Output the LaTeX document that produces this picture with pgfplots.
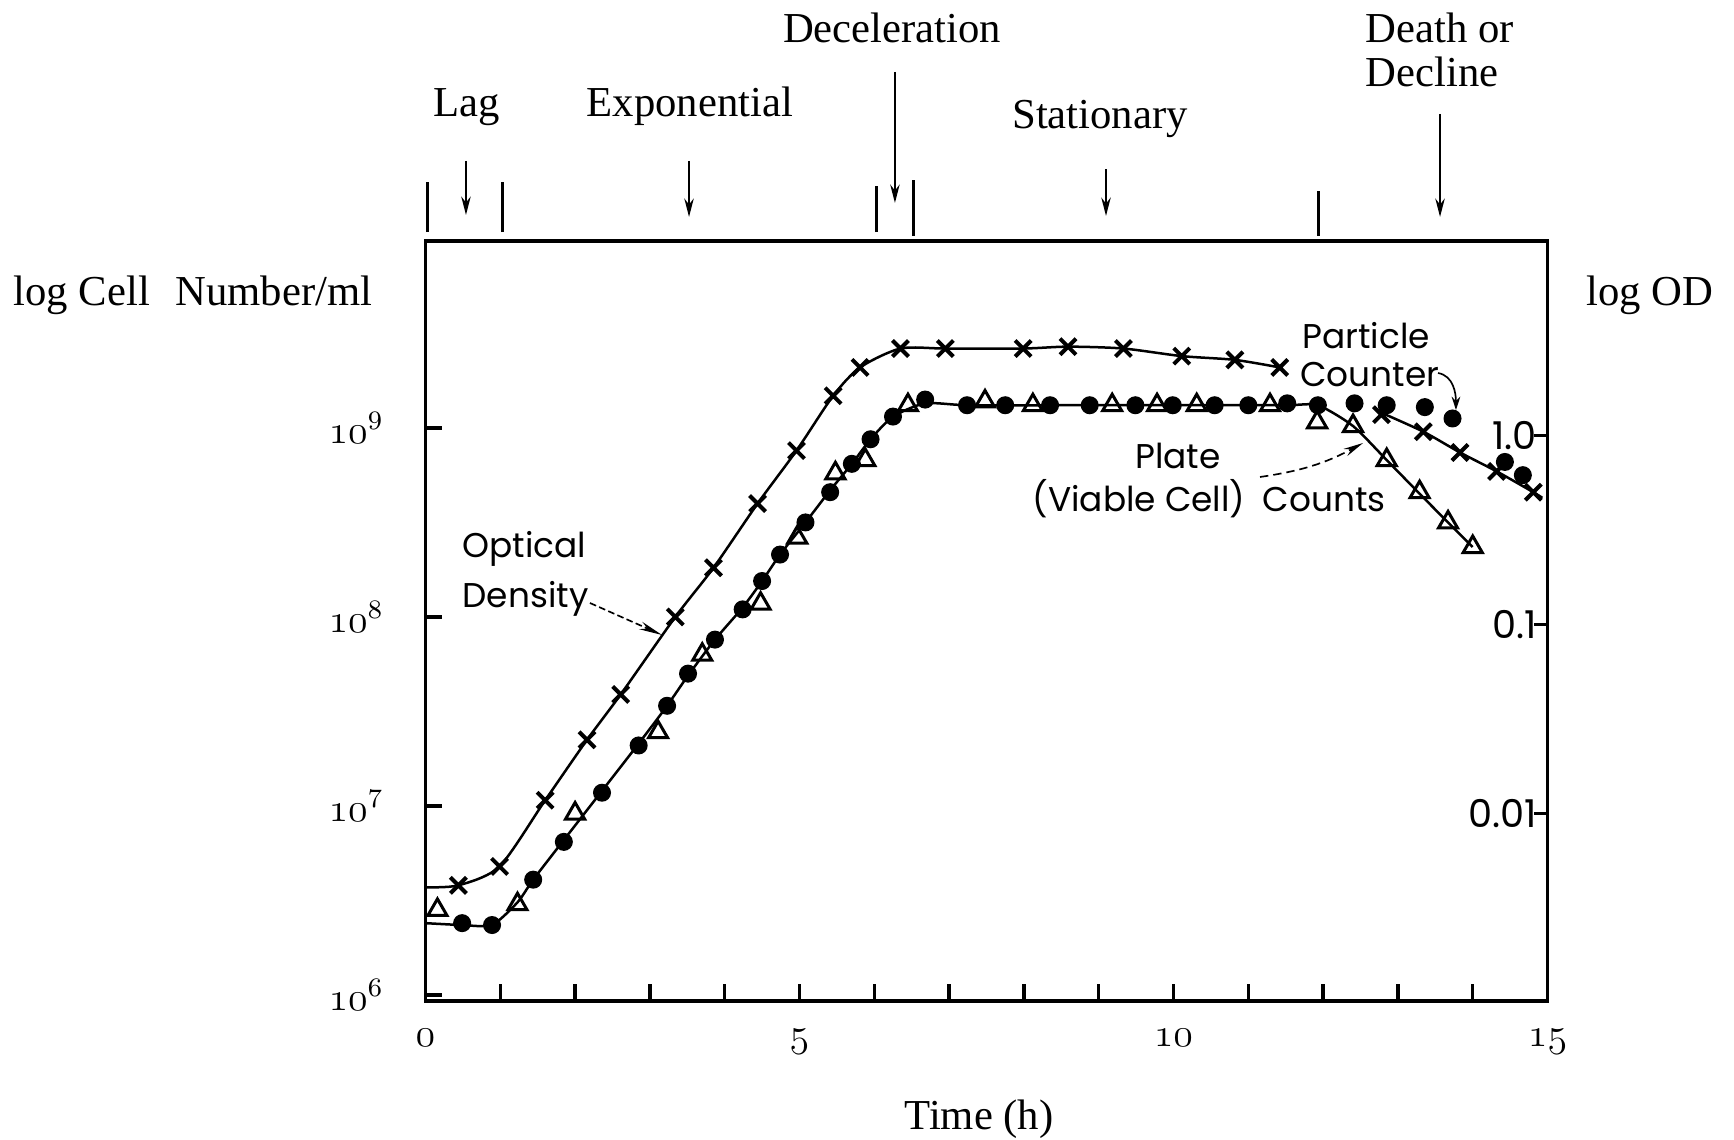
\documentclass[border=0pt]{standalone}
\usepackage{fontspec}
\setmainfont{Liberation Serif}
\newfontfamily\geo{Poppins}
\usepackage{pgfplots}
\pgfplotsset{compat=1.18}
\usetikzlibrary{arrows.meta}

\begin{document}
\begin{tikzpicture}
\begin{axis}[
  scale only axis, width=336.6pt, height=228pt,
  xmin=0, xmax=15, ymin=5.968, ymax=9.989,
  axis line style={line width=1pt},
  tick align=inside, xtick pos=left, ytick pos=left,
  major tick length=5pt, minor tick length=5pt,
  tick style={black, line width=1pt},
  xtick={0,5,10,15},
  minor xtick={1,2,3,4,6,7,8,9,11,12,13,14},
  xticklabels={$\mathnormal{0}$,$\mathnormal{5}$,$\mathnormal{10}$,$\mathnormal{15}$},
  ytick={6,7,8,9},
  yticklabels={$\mathnormal{10}^{6}$,$\mathnormal{10}^{7}$,$\mathnormal{10}^{8}$,$\mathnormal{10}^{9}$},
  ticklabel style={font=\fontsize{12}{14}\selectfont},
  xticklabel style={yshift=-5pt, font=\fontsize{13}{15}\selectfont},
  yticklabel style={xshift=-9pt},
  clip=false,
]
% optical density, line broken behind the "Particle Counter" label
\addplot[black, line width=0.75pt, smooth, tension=0.45] coordinates {
  (0,6.57)(0.44,6.58)(0.99,6.68)(1.60,7.03)(2.16,7.35)(2.61,7.59)(3.34,8.00)
  (3.85,8.26)(4.44,8.60)(4.96,8.88)(5.45,9.17)(5.81,9.32)(6.35,9.42)(6.95,9.42)
  (7.99,9.42)(8.59,9.43)(9.33,9.42)(10.11,9.38)(10.82,9.36)(11.42,9.32)};
\addplot[black, line width=0.75pt, smooth, tension=0.45] coordinates {
  (12.78,9.08)(13.34,8.98)(13.83,8.87)(14.32,8.77)(14.81,8.66)(14.93,8.63)};
% plate / particle count curve
\addplot[black, line width=0.75pt, smooth, tension=0.4] coordinates {
  (0,6.38)(0.49,6.37)(0.89,6.37)(1.23,6.49)(1.44,6.61)(1.85,6.82)(2.36,7.08)
  (2.85,7.33)(3.23,7.53)(3.51,7.69)(3.87,7.88)(4.24,8.05)(4.50,8.19)(4.74,8.33)
  (5.08,8.50)(5.41,8.67)(5.70,8.81)(5.95,8.94)(6.25,9.06)(6.68,9.13)(7.24,9.12)
  (8.35,9.12)(9.49,9.12)(10.55,9.12)(11.52,9.12)(11.93,9.12)(12.40,9.01)
  (12.85,8.83)(13.27,8.66)(13.67,8.50)(14.0,8.37)};

% markers: optical density (x)
\addplot[only marks, mark=x, mark size=3.4pt, mark options={line width=1.2pt, black}] coordinates {
  (0.44,6.58)(0.99,6.68)(1.60,7.03)(2.16,7.35)(2.61,7.59)(3.34,8.00)(3.85,8.26)
  (4.44,8.60)(4.96,8.88)(5.45,9.17)(5.81,9.32)(6.35,9.42)(6.95,9.42)(7.99,9.42)
  (8.59,9.43)(9.33,9.42)(10.11,9.38)(10.82,9.36)(11.42,9.32)
  (12.78,9.07)(13.34,8.98)(13.83,8.87)(14.32,8.77)(14.81,8.66)};
% particle counter (dots)
\addplot[only marks, mark=*, mark size=2.5pt, mark options={black, fill=black}] coordinates {
  (0.49,6.38)(0.89,6.37)(1.44,6.61)(1.85,6.81)(2.36,7.07)(2.85,7.32)(3.23,7.53)
  (3.51,7.70)(3.87,7.88)(4.24,8.04)(4.50,8.19)(4.74,8.33)(5.08,8.50)(5.41,8.66)
  (5.70,8.81)(5.95,8.94)(6.25,9.06)(6.68,9.15)(7.24,9.12)(7.75,9.12)(8.35,9.12)
  (8.88,9.12)(9.49,9.12)(9.99,9.12)(10.55,9.12)(11.00,9.12)(11.52,9.13)(11.93,9.12)
  (12.42,9.13)(12.85,9.12)(13.36,9.11)(13.73,9.05)(14.43,8.82)(14.67,8.75)};
% plate (viable cell) counts (triangles)
\addplot[only marks, mark=triangle, mark size=3.3pt, mark options={black, fill=white, line width=0.9pt}] coordinates {
  (0.16,6.45)(1.23,6.48)(2.00,6.96)(3.11,7.39)(3.70,7.80)(4.48,8.07)(4.97,8.42)
  (5.48,8.76)(5.88,8.83)(6.45,9.12)(7.48,9.14)(8.12,9.12)(9.18,9.12)(9.78,9.12)
  (10.31,9.12)(11.29,9.12)(11.92,9.03)(12.40,9.01)(12.85,8.83)(13.29,8.66)
  (13.67,8.50)(14.00,8.37)};

% phase labels above the frame
\begin{scope}[every node/.style={inner sep=0pt, font=\fontsize{12.8}{15}\selectfont}]
\node[anchor=base] at (rel axis cs:0.0370,1.1632) {Lag};
\node[anchor=base] at (rel axis cs:0.2357,1.1632) {Exponential};
\node[anchor=base] at (rel axis cs:0.4158,1.2618) {Deceleration};
\node[anchor=base] at (rel axis cs:0.6012,1.1474) {Stationary};
\node[anchor=base west] at (rel axis cs:0.8373,1.2618) {Death or};
\node[anchor=base west] at (rel axis cs:0.8373,1.2026) {Decline};
\node[anchor=base west] at (rel axis cs:-0.3676,0.9145) {log Cell\hspace{0.6em}Number/ml};
\node[anchor=base east] at (rel axis cs:1.1484,0.9145) {log OD};
\node[anchor=base] at (rel axis cs:0.4933,-0.1697) {Time (h)};
\end{scope}
\begin{scope}[line width=0.8pt, -{Stealth[length=5.5pt,width=2.8pt]}]
\draw (rel axis cs:0.0361,1.1053) -- (rel axis cs:0.0361,1.0342);
\draw (rel axis cs:0.2349,1.1053) -- (rel axis cs:0.2349,1.0316);
\draw (rel axis cs:0.4184,1.2224) -- (rel axis cs:0.4184,1.0500);
\draw (rel axis cs:0.6065,1.0947) -- (rel axis cs:0.6065,1.0329);
\draw (rel axis cs:0.9042,1.1671) -- (rel axis cs:0.9042,1.0316);
\end{scope}
\begin{scope}[line width=0.9pt]
\draw (rel axis cs:0.0022,1.0118) -- (rel axis cs:0.0022,1.0776);
\draw (rel axis cs:0.0682,1.0118) -- (rel axis cs:0.0682,1.0776);
\draw (rel axis cs:0.4024,1.0118) -- (rel axis cs:0.4024,1.0724);
\draw (rel axis cs:0.4345,1.0066) -- (rel axis cs:0.4345,1.0803);
\draw (rel axis cs:0.7963,1.0066) -- (rel axis cs:0.7963,1.0658);
\end{scope}

% series labels inside the plot
\begin{scope}[every node/.style={inner sep=0pt, font=\geo\fontsize{10.3}{12}\selectfont}]
\node[anchor=base west] at (rel axis cs:0.0325,0.5829) {Optical};
\node[anchor=base west] at (rel axis cs:0.0325,0.5184) {Density};
\node[anchor=base west] at (rel axis cs:0.7810,0.8579) {Particle};
\node[anchor=base west] at (rel axis cs:0.7790,0.8079) {Counter};
\node[anchor=base] at (rel axis cs:0.6707,0.7000) {Plate};
\node[anchor=base west] at (rel axis cs:0.5405,0.6447) {(Viable Cell)\hspace{0.5em}Counts};
\end{scope}
\draw[line width=0.5pt, dash pattern=on 2pt off 1pt, -{Stealth[length=7pt,width=2.4pt]}]
  (rel axis cs:0.1466,0.5237) -- (rel axis cs:0.2108,0.4816);
\draw[line width=0.5pt, -{Stealth[length=4pt,width=2.6pt]}]
  (rel axis cs:0.9024,0.8263) to[out=-10,in=90] (rel axis cs:0.9184,0.7776);
\draw[line width=0.5pt, dash pattern=on 2.5pt off 1.5pt, -{Stealth[length=6pt,width=2.4pt]}]
  (rel axis cs:0.7438,0.6895) to[bend right=10] (rel axis cs:0.8356,0.7342);

% page extent
\path (rel axis cs:-0.3792,-0.1816) rectangle (rel axis cs:1.1662,1.3171);
\end{axis}

% right-hand log OD scale
\begin{axis}[
  scale only axis, width=336.6pt, height=228pt,
  xmin=0, xmax=15, ymin=-2.992, ymax=1.029,
  hide x axis, axis y line*=right,
  y axis line style={line width=1pt, -},
  tick align=inside, major tick length=4pt,
  tick style={black, line width=1pt},
  ytick={-2,-1,0}, yticklabels={0.01,0.1,1.0},
  yticklabel style={anchor=east, xshift=-3pt, inner sep=0pt, font=\geo\fontsize{11.5}{13}\selectfont},
]
\end{axis}
\end{tikzpicture}
\end{document}
